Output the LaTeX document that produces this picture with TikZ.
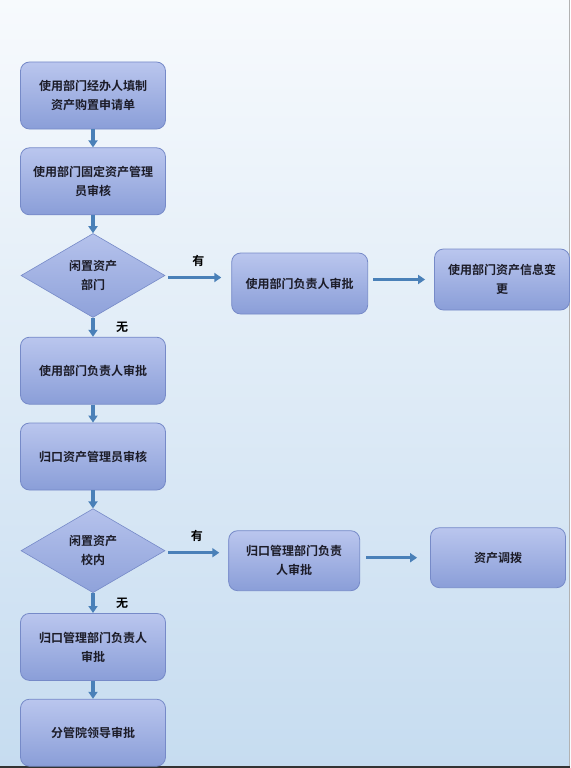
\documentclass[tikz,border=0pt]{standalone}
\usepackage{fontspec}
\newfontfamily\cjk{Noto Sans CJK SC}[BoldFont={Noto Sans CJK SC Bold}]
\usepackage{xcolor}
\usepackage{tikz}
\usetikzlibrary{arrows.meta,positioning,shapes.geometric,calc}

\definecolor{bgtop}{RGB}{247,250,253}
\definecolor{bgbot}{RGB}{198,220,240}
\definecolor{boxtop}{RGB}{186,198,238}
\definecolor{boxbot}{RGB}{138,158,216}
\definecolor{boxline}{RGB}{118,138,200}
\definecolor{arrowblue}{RGB}{74,128,184}
\definecolor{textdark}{RGB}{28,28,40}

\begin{document}
\begin{tikzpicture}[
    node distance=18pt,
    block/.style={
        rectangle,
        draw=boxline,
        line width=0.8pt,
        top color=boxtop,
        bottom color=boxbot,
        minimum width=145pt,
        minimum height=67pt,
        text width=128pt,
        align=center,
        rounded corners=9pt,
        font=\cjk\bfseries\fontsize{12}{19}\selectfont,
        text=textdark
    },
    decision/.style={
        diamond,
        draw=boxline,
        line width=0.6pt,
        top color=boxtop!90!boxbot,
        bottom color=boxbot!90!boxtop,
        minimum width=144pt,
        minimum height=84pt,
        inner sep=0pt,
        align=center,
        font=\cjk\bfseries\fontsize{12}{19}\selectfont,
        text=textdark
    },
    arrow/.style={-{Triangle[length=7pt,width=9pt]}, line width=3.5pt, arrowblue},
    label/.style={font=\cjk\bfseries\fontsize{12}{14}\selectfont, text=black}
]

% background
\shade[top color=bgtop, bottom color=bgbot] (0,0) rectangle (570pt,-768pt);
\useasboundingbox (0,0) rectangle (570pt,-768pt);
\draw[gray!60, line width=1pt] (569.5pt,0) -- (569.5pt,-766pt);
\draw[black!80, line width=2pt] (0,-767pt) -- (570pt,-767pt);

% =========================================
% Main vertical chain
% =========================================
\node[block] (fill) at (93pt,-95.5pt) {
    使用部门经办人填制\\资产购置申请单
};
\node[block, below=of fill] (check) {
    使用部门固定资产管理\\员审核
};
\node[decision, below=of check] (idle1) {闲置资产\\部门};
\node[block, below=19pt of idle1] (head) {
    使用部门负责人审批
};
\node[block, below=of head] (admin) {
    归口资产管理员审核
};
\node[decision, below=of admin] (idle2) {闲置资产\\校内};
\node[block, below=20pt of idle2] (mgr) {
    归口管理部门负责人\\审批
};
\node[block, below=of mgr] (lead) {
    分管院领导审批
};

% =========================================
% Side branches
% =========================================
\node[block, minimum width=136pt, minimum height=61pt, text width=124pt,
      right=66pt of idle1, yshift=-8pt] (head2) {
    使用部门负责人审批
};
\node[block, minimum width=135pt, minimum height=61pt, text width=124pt,
      right=66pt of head2, yshift=4pt] (change) {
    使用部门资产信息变\\更
};
\node[block, minimum width=131pt, minimum height=60pt, text width=118pt,
      right=63pt of idle2, yshift=-10pt] (mgr2) {
    归口管理部门负责\\人审批
};
\node[block, minimum width=135pt, minimum height=60pt, text width=122pt,
      right=70pt of mgr2, yshift=3pt] (transfer) {
    资产调拨
};

% =========================================
% Arrows
% =========================================
\draw[arrow] (fill) -- (check);
\draw[arrow] (check) -- (idle1);
\draw[arrow] (idle1) -- (head)
    node[midway, right=18pt, label] {无};
\draw[arrow] (head) -- (admin);
\draw[arrow] (admin) -- (idle2);
\draw[arrow] (idle2) -- (mgr)
    node[midway, right=18pt, label] {无};
\draw[arrow] (mgr) -- (lead);

\draw[arrow, shorten <=3pt, shorten >=10pt] ($(idle1.east)+(0,-2pt)$) -- ($(idle1.east -| head2.west)+(0,-2pt)$)
    node[midway, above=6pt, label] {有};
\draw[arrow, shorten <=5pt, shorten >=9pt] (head2.east |- change) -- (change.west);
\draw[arrow, shorten <=3pt, shorten >=9pt] ($(idle2.east)+(0,-2pt)$) -- ($(idle2.east -| mgr2.west)+(0,-2pt)$)
    node[midway, above=6pt, label] {有};
\draw[arrow, shorten <=6pt, shorten >=13pt] (mgr2.east |- transfer) -- (transfer.west);

\end{tikzpicture}
\end{document}
